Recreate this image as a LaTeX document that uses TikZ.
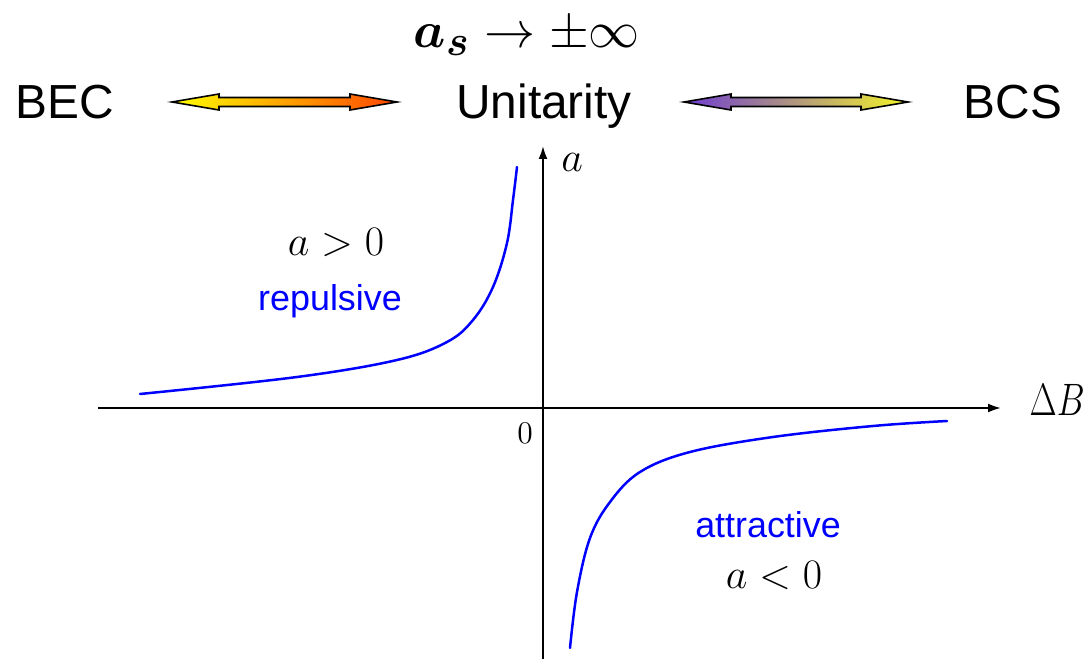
\documentclass[tikz,border=0pt]{standalone}
\usepackage{amsmath,bm}
\usepackage{fontspec}
\newfontfamily\arialf{Liberation Sans}
\usetikzlibrary{arrows.meta,calc}
\definecolor{curveblue}{RGB}{0,0,255}
\definecolor{ayel}{RGB}{255,255,0}
\definecolor{ared}{RGB}{255,70,0}
\definecolor{apur}{RGB}{110,60,210}
\definecolor{byel}{RGB}{245,245,40}
\tikzset{
  bigtext/.style={font=\arialf\fontsize{48}{56}\selectfont, inner sep=0pt, anchor=base},
  bluetext/.style={font=\arialf\fontsize{36}{42}\selectfont, text=curveblue, inner sep=0pt, anchor=base},
  mathlbl/.style={font=\fontsize{20.74}{25}\selectfont, scale=2.03, inner sep=0pt, anchor=base},
  axis/.style={line width=2bp, black, -{Latex[length=13bp,width=9bp]}},
  curve/.style={line width=2.5bp, curveblue, line cap=round, line join=round},
  gradarrow/.style={draw=black, line width=1.6bp, line join=miter}
}
\begin{document}
\begin{tikzpicture}[x=1bp,y=-1bp]
\useasboundingbox (0,0) rectangle (1088,659);
% title
\node[font=\fontsize{24.88}{30}\selectfont, scale=2.06, inner sep=0pt, anchor=base] (title) at (527,48) {$\bm{a_s}\rightarrow\pm\infty$};
% top row labels
\node[bigtext] (bec) at (65,119) {BEC};
\node[bigtext] (uni) at (544,119) {Unitarity};
\node[bigtext] (bcs) at (1013,119) {BCS};
% gradient double arrows
\coordinate (l1) at (172,102); \coordinate (r1) at (397,102);
\coordinate (l2) at (684,102); \coordinate (r2) at (908,102);
\shadedraw[gradarrow, left color=ayel, right color=ared]
  (l1) -- ++(47,-8) -- ++(0,3.5) -- ($(r1)+(-47,-4.5)$) -- ++(0,-3.5) -- (r1)
  -- ++(-47,8) -- ++(0,-3.5) -- ($(l1)+(47,4.5)$) -- ++(0,3.5) -- cycle;
\shadedraw[gradarrow, left color=apur, right color=byel]
  (l2) -- ++(47,-8) -- ++(0,3.5) -- ($(r2)+(-47,-4.5)$) -- ++(0,-3.5) -- (r2)
  -- ++(-47,8) -- ++(0,-3.5) -- ($(l2)+(47,4.5)$) -- ++(0,3.5) -- cycle;
% axes
\coordinate (xs) at (98,408); \coordinate (xe) at (1001,408);
\coordinate (ys) at (543,659); \coordinate (ye) at (543,146);
\draw[axis] (xs) -- (xe);
\draw[axis] (ys) -- (ye);
\node[font=\fontsize{20.74}{25}\selectfont, xscale=1.7, yscale=2.2, inner sep=0pt, anchor=base east] (dblab) at (1085,415) {$\Delta B$};
\node[mathlbl, anchor=base west] (alab) at (561,172) {$a$};
\node[font=\fontsize{14.4}{18}\selectfont, scale=2.2, inner sep=0pt, anchor=base] (zero) at (525,443) {$0$};
% curves
\draw[curve] plot[smooth, tension=0.6] coordinates {(140,394) (297,377) (397,360) (447,342) (473,320) (493,287) (507,243) (513,200) (517,167)};
\draw[curve] plot[smooth, tension=0.6] coordinates {(570,648) (577,592) (590,538) (610,502) (640,472) (690,452) (773,437) (873,426) (947,421)};
% region labels
\node[mathlbl] (agt) at (336,255) {$a>0$};
\node[bluetext] (rep) at (330,310) {repulsive};
\node[bluetext] (att) at (768,537) {attractive};
\node[mathlbl] (alt) at (774,588) {$a<0$};
\end{tikzpicture}
\end{document}
